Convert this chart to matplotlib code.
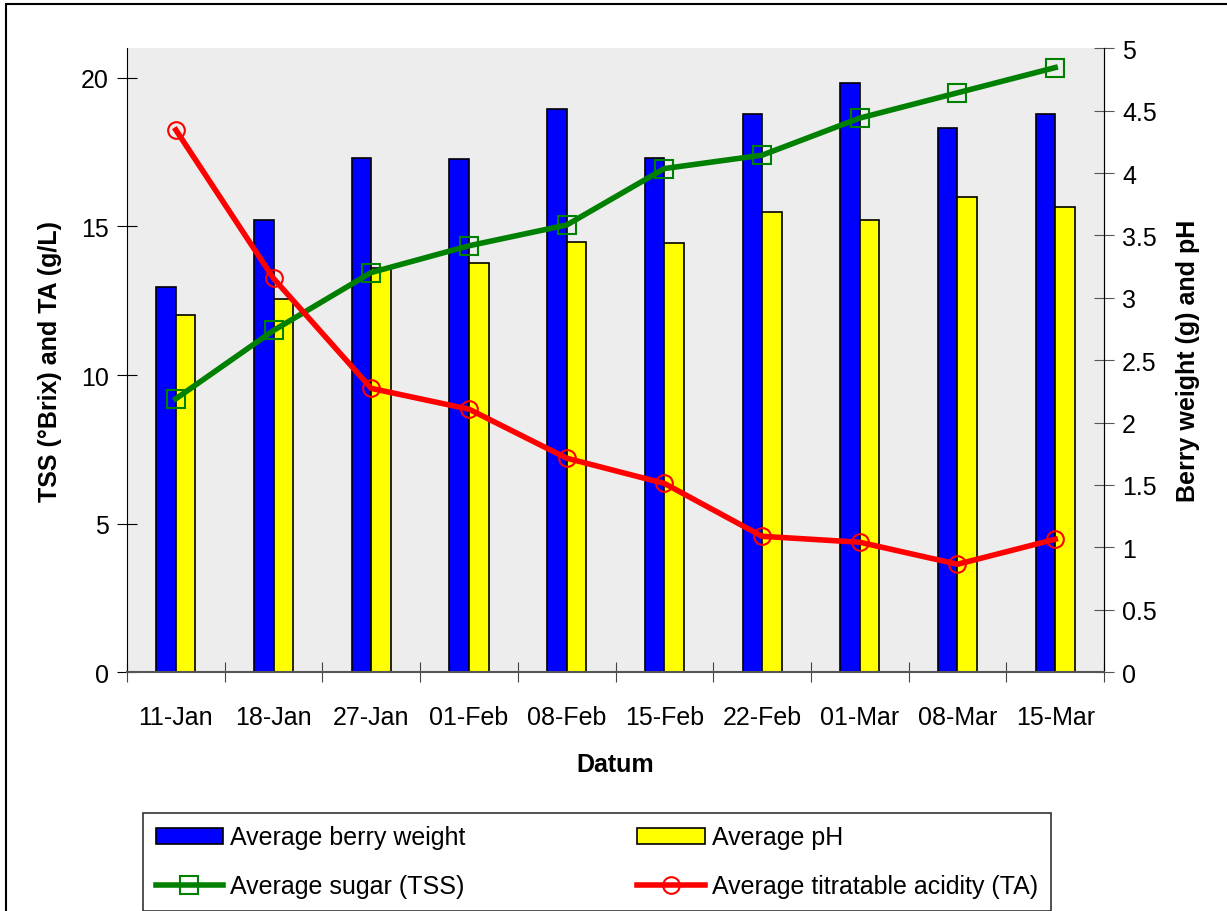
# Berry ripening: weight, pH, sugar and acidity over the season
import matplotlib.pyplot as plt
from matplotlib.patches import Rectangle

plt.rcParams['font.family'] = ['Liberation Sans', 'DejaVu Sans']

dates = ["11-Jan", "18-Jan", "27-Jan", "01-Feb", "08-Feb",
         "15-Feb", "22-Feb", "01-Mar", "08-Mar", "15-Mar"]
berry_weight = [3.09, 3.62, 4.12, 4.11, 4.51, 4.12, 4.47, 4.72, 4.36, 4.47]  # g
ph = [2.86, 2.99, 3.24, 3.28, 3.45, 3.44, 3.69, 3.62, 3.81, 3.73]
tss = [9.2, 11.5, 13.45, 14.35, 15.05, 16.95, 17.4, 18.65, 19.5, 20.35]  # °Brix
ta = [18.25, 13.25, 9.55, 8.85, 7.2, 6.35, 4.57, 4.37, 3.63, 4.47]  # g/L

fig = plt.figure(figsize=(12.27, 9.12), dpi=100)
ax = fig.add_axes([0.1035, 0.262, 0.7963, 0.684])
ax2 = ax.twinx()

# bars on the right axis, lines drawn on top from the left axis
ax.set_zorder(2)
ax2.set_zorder(1)
ax.patch.set_visible(False)
ax2.patch.set_visible(True)
ax2.patch.set_facecolor("#ededed")

x = list(range(len(dates)))
w = 0.2
b1 = ax2.bar([i - w / 2 for i in x], berry_weight, w, color="#0000ff",
             edgecolor="black", linewidth=1.2, label="Average berry weight")
b2 = ax2.bar([i + w / 2 for i in x], ph, w, color="#ffff00",
             edgecolor="black", linewidth=1.2, label="Average pH")
l1, = ax.plot(x, tss, color="#008000", linewidth=4, marker="s", markersize=13,
              markerfacecolor="none", markeredgecolor="#008000", markeredgewidth=1.5,
              label="Average sugar (TSS)")
l2, = ax.plot(x, ta, color="#ff0000", linewidth=4, marker="o", markersize=12,
              markerfacecolor="none", markeredgecolor="#ff0000", markeredgewidth=1.5,
              label="Average titratable acidity (TA)")

ax.set_xlim(-0.5, len(dates) - 0.5)
ax.set_ylim(0, 21)
ax2.set_ylim(0, 5)
ax.set_yticks([0, 5, 10, 15, 20])
ax2.set_yticks([i * 0.5 for i in range(11)])
ax2.set_yticklabels(["0", "0.5", "1", "1.5", "2", "2.5", "3", "3.5", "4", "4.5", "5"])

ax.set_xticks([i - 0.5 for i in range(len(dates) + 1)])
ax.set_xticklabels([])
ax.set_xticks(x, minor=True)
ax.set_xticklabels(dates, minor=True)
ax.tick_params(axis="x", which="major", direction="inout", length=14, color="#444444")
ax.tick_params(axis="x", which="minor", length=0, labelsize=18, pad=24)
ax.tick_params(axis="y", direction="inout", length=14, labelsize=18, pad=6)
ax2.tick_params(axis="y", direction="inout", length=14, labelsize=18, pad=6,
                color="#555555")

for a in (ax, ax2):
    a.spines["top"].set_visible(False)
ax.spines["left"].set_color("black")
ax.spines["bottom"].set_color("#555555")
ax.spines["bottom"].set_linewidth(1.5)
ax2.spines["right"].set_color("#555555")
ax2.spines["left"].set_visible(False)
ax2.spines["bottom"].set_visible(False)

ax.set_xlabel("Datum", fontsize=18, fontweight="bold", labelpad=16)
ax.set_ylabel("TSS (°Brix) and TA (g/L)", fontsize=18, fontweight="bold", labelpad=14)
ax2.set_ylabel("Berry weight (g) and pH", fontsize=18, fontweight="bold", labelpad=14)

leg = fig.legend([b1, l1, b2, l2],
                 ["Average berry weight", "Average sugar (TSS)",
                  "Average pH", "Average titratable acidity (TA)"],
                 ncol=2, loc="lower left", mode="expand",
                 bbox_to_anchor=(143 / 1227, 0.0, 908 / 1227, 104 / 912),
                 fontsize=18, frameon=True, fancybox=False, handlelength=2.7,
                 handleheight=0.6, handletextpad=0.3, borderaxespad=0,
                 borderpad=0.5, labelspacing=1.0)
leg.get_frame().set_edgecolor("black")
leg.get_frame().set_linewidth(1.2)

# outer chart border
fig.patches.append(Rectangle((6 / 1227, -0.01), 1.0, 0.01 + 907 / 912,
                             transform=fig.transFigure, fill=False,
                             edgecolor="black", linewidth=1.5))

fig.savefig("out.png", dpi=100)
